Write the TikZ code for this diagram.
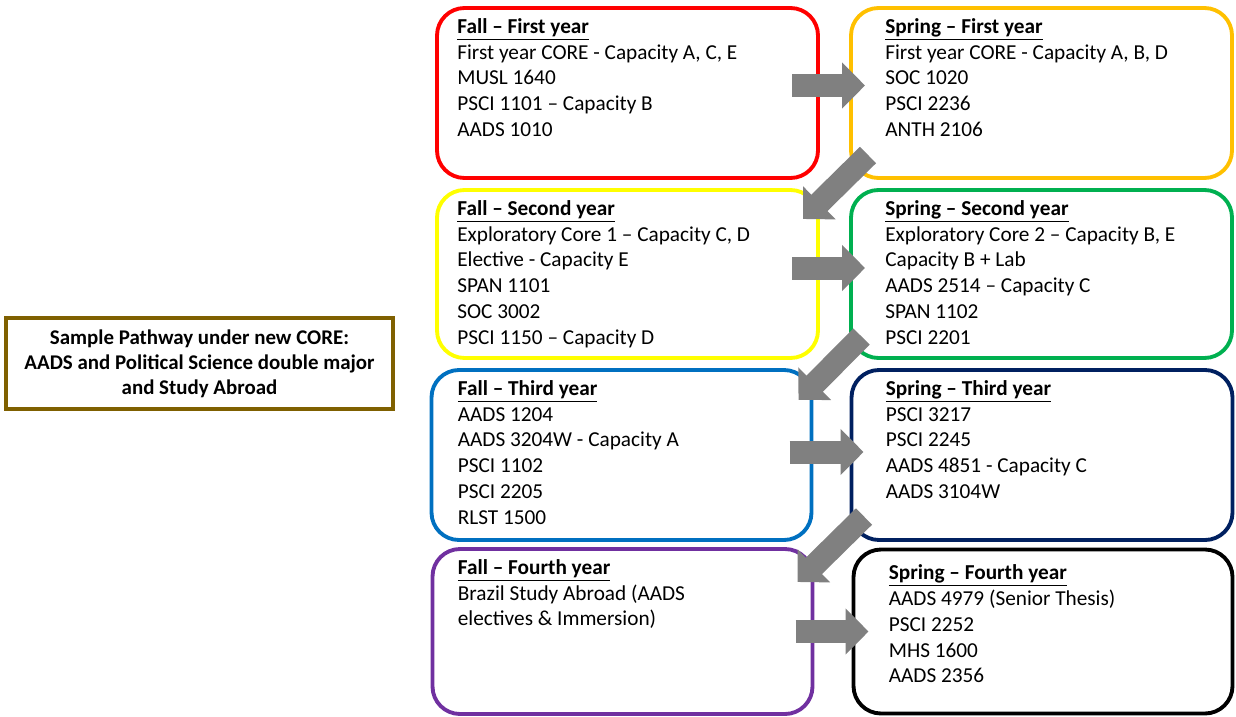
\documentclass[tikz,border=0pt]{standalone}
\usepackage{fontspec}
\setmainfont{Carlito}
\usetikzlibrary{arrows.meta,positioning,calc}
\definecolor{FallOne}{HTML}{FF0000}
\definecolor{SpringOne}{HTML}{FFC000}
\definecolor{FallTwo}{HTML}{FFFF00}
\definecolor{SpringTwo}{HTML}{00B050}
\definecolor{FallThree}{HTML}{0070C0}
\definecolor{SpringThree}{HTML}{002060}
\definecolor{FallFour}{HTML}{7030A0}
\definecolor{Flow}{HTML}{808080}
\definecolor{Banner}{HTML}{7F6000}
\tikzset{term/.style={draw,line width=2.2pt,rounded corners=5.5mm,minimum width=7.62cm,
    minimum height=3.4cm,inner sep=0pt,outer sep=0pt},
  course/.style={align=left,inner sep=0pt,font=\fontsize{12.1}{14.66}\selectfont,text=black},
  flow/.style={draw=Flow,line width=4.6mm,-{Triangle[length=4.6mm,width=9mm]}},
  banner/.style={draw=Banner,line width=2.2pt,minimum width=7.74cm,minimum height=1.82cm,
    align=center,font=\fontsize{11.9}{14.3}\selectfont\bfseries,outer sep=0pt}}
\newcommand{\semhead}[1]{\textbf{\underline{#1}}}

\begin{document}
\begin{tikzpicture}
    \useasboundingbox (0,0) rectangle (24.72,-14.32);
    \node[banner] (intro) at (3.99,-7.27) {Sample Pathway under new CORE:\\AADS and Political Science double major\\and Study Abroad};
    \node[term,draw=FallOne] (f1) at (12.55,-1.86) {};
    \node[term,draw=SpringOne,right=0.66cm of f1] (s1) {};
    \node[term,draw=FallTwo,minimum height=3.36cm,below=0.24cm of f1] (f2) {};
    \node[term,draw=SpringTwo,minimum height=3.36cm,right=0.66cm of f2] (s2) {};
    \node[term,draw=FallThree,minimum width=7.6cm,below=0.24cm of f2,xshift=-0.12cm] (f3) {};
    \node[term,draw=SpringThree,right=0.80cm of f3] (s3) {};
    \node[term,draw=FallFour,minimum width=7.6cm,minimum height=3.3cm,below=0.18cm of f3,xshift=0.02cm] (f4) {};
    \node[term,draw=black,minimum width=7.58cm,minimum height=3.28cm,right=0.82cm of f4] (s4) {};
    % course lists
    \node[course,below right=0.2cm and 0.4cm of f1.north west] (f1t) {\semhead{Fall -- First year}\\First year CORE - Capacity A, C, E\\MUSL 1640\\PSCI 1101 -- Capacity B\\AADS 1010};
    \node[course,below right=0.2cm and 0.68cm of s1.north west] (s1t) {\semhead{Spring -- First year}\\First year CORE - Capacity A, B, D\\SOC 1020\\PSCI 2236\\ANTH 2106};
    \node[course,below right=0.2cm and 0.4cm of f2.north west] (f2t) {\semhead{Fall -- Second year}\\Exploratory Core 1 -- Capacity C, D\\Elective - Capacity E\\SPAN 1101\\SOC 3002\\PSCI 1150 -- Capacity D};
    \node[course,below right=0.2cm and 0.68cm of s2.north west] (s2t) {\semhead{Spring -- Second year}\\Exploratory Core 2 -- Capacity B, E\\Capacity B + Lab\\AADS 2514 -- Capacity C\\SPAN 1102\\PSCI 2201};
    \node[course,below right=0.2cm and 0.52cm of f3.north west] (f3t) {\semhead{Fall -- Third year}\\AADS 1204\\AADS 3204W - Capacity A\\PSCI 1102\\PSCI 2205\\RLST 1500};
    \node[course,below right=0.2cm and 0.68cm of s3.north west] (s3t) {\semhead{Spring -- Third year}\\PSCI 3217\\PSCI 2245\\AADS 4851 - Capacity C\\AADS 3104W};
    \node[course,below right=0.2cm and 0.5cm of f4.north west] (f4t) {\semhead{Fall -- Fourth year}\\Brazil Study Abroad (AADS\\electives \& Immersion)};
    \node[course,below right=0.3cm and 0.7cm of s4.north west] (s4t) {\semhead{Spring -- Fourth year}\\AADS 4979 (Senior Thesis)\\PSCI 2252\\MHS 1600\\AADS 2356};
    % fall to spring
    \draw[flow] ($(f1.east)+(-0.52,0.15)$) -- ($(s1.west)+(0.28,0.15)$);
    \draw[flow] ($(f2.east)+(-0.52,0.12)$) -- ($(s2.west)+(0.28,0.12)$);
    \draw[flow] ($(f3.east)+(-0.44,0.06)$) -- ($(s3.west)+(0.24,0.06)$);
    \draw[flow] ($(f4.east)+(-0.34,0)$) -- ($(s4.west)+(0.30,0)$);
    % spring to next fall
    \draw[flow] ($(s1.south west)+(0.34,0.46)$) -- ($(f2.north east)+(-0.30,-0.58)$);
    \draw[flow] ($(s2.south west)+(0.21,0.43)$) -- ($(f3.north east)+(-0.26,-0.60)$);
    \draw[flow] ($(s3.south west)+(0.25,0.47)$) -- ($(f4.north east)+(-0.30,-0.66)$);
\end{tikzpicture}
\end{document}
